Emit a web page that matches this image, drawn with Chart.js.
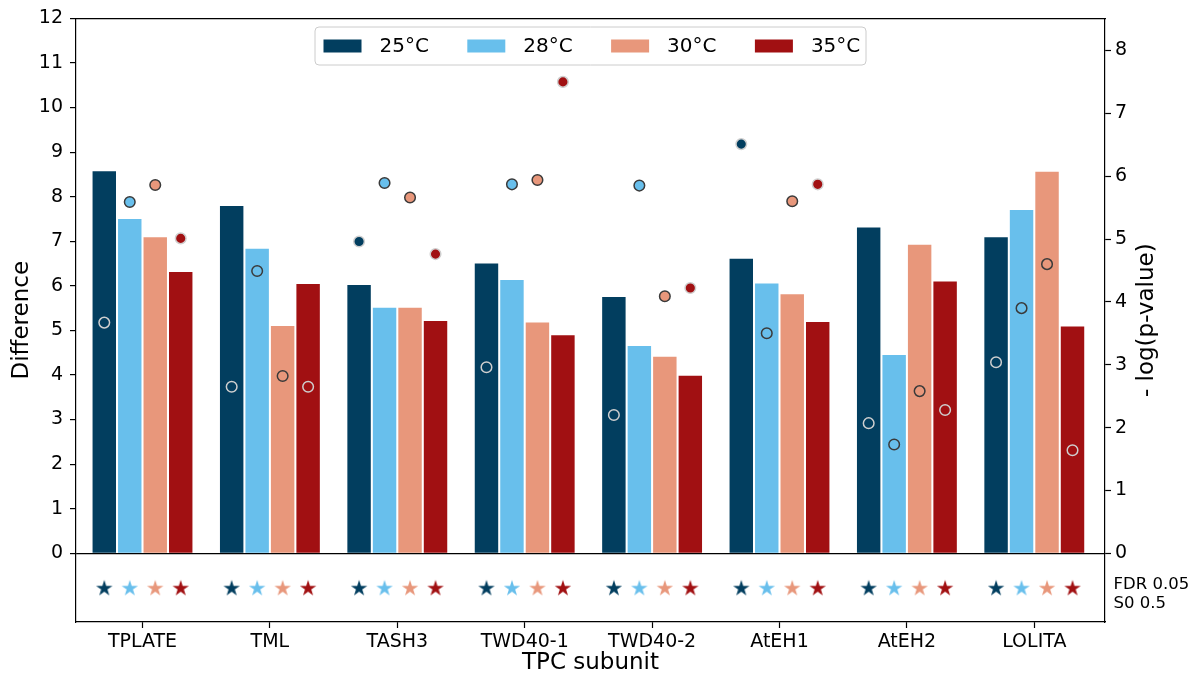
<!DOCTYPE html>
<html>
<head>
<meta charset="utf-8">
<script src="https://cdn.jsdelivr.net/npm/chart.js@4.4.1/dist/chart.umd.min.js"></script>
<style>
html,body{margin:0;padding:0;background:#fff;}
#wrap{position:relative;width:1198px;height:681px;}
canvas{display:block;}
</style>
</head>
<body>
<div id="wrap"><canvas id="c" width="1198" height="681"></canvas></div>
<script>
// ---------------- data ----------------
const categories = ['TPLATE', 'TML', 'TASH3', 'TWD40-1', 'TWD40-2', 'AtEH1', 'AtEH2', 'LOLITA'];
const seriesLabels = ['25°C', '28°C', '30°C', '35°C'];

// Difference (bars, left axis)
const diff25 = [8.57, 7.79, 6.02, 6.50, 5.75, 6.61, 7.31, 7.09];
const diff28 = [7.50, 6.83, 5.51, 6.13, 4.65, 6.05, 4.45, 7.70];
const diff30 = [7.09, 5.10, 5.51, 5.18, 4.41, 5.81, 6.92, 8.56];
const diff35 = [6.31, 6.04, 5.21, 4.89, 3.98, 5.19, 6.10, 5.09];

// -log(p-value) (points, right axis)
const logp25 = [3.67, 2.65, 4.96, 2.96, 2.20, 6.51, 2.07, 3.04];
const logp28 = [5.59, 4.49, 5.89, 5.87, 5.85, 3.50, 1.73, 3.90];
const logp30 = [5.86, 2.82, 5.66, 5.94, 4.09, 5.60, 2.58, 4.60];
const logp35 = [5.01, 2.65, 4.76, 7.50, 4.22, 5.87, 2.28, 1.64];

// significance (FDR 0.05, S0 0.5) -> star
const sig25 = [true, true, true, true, true, true, true, true];
const sig28 = [true, true, true, true, true, true, true, true];
const sig30 = [true, true, true, true, true, true, true, true];
const sig35 = [true, true, true, true, true, true, true, true];

const leftRange = [0, 12];
const rightRange = [0, 8.51];
const noteLines = ['FDR 0.05', 'S0 0.5'];
const xTitle = 'TPC subunit';
const yTitle = 'Difference';
const y2Title = '- log(p-value)';

// ---------------- styles ----------------
const colors = ['#023e5f', '#68bfec', '#e8977b', '#a11012'];
const edgeColors = ['#cfcfcf', '#3a3a3a', '#3a3a3a', '#cfcfcf'];
const diffSeries = [diff25, diff28, diff30, diff35];
const logpSeries = [logp25, logp28, logp30, logp35];
const sigSeries = [sig25, sig28, sig30, sig35];
const groupWidth = 0.8;
const slotOffset = k => (k - (seriesLabels.length - 1) / 2) * groupWidth / seriesLabels.length;

Chart.defaults.font.family = "'DejaVu Sans', sans-serif";
Chart.defaults.color = '#000';

function starCanvas(color) {
  const s = 20, c = document.createElement('canvas');
  c.width = s; c.height = s;
  const g = c.getContext('2d');
  const R = 8.6, r = R * 0.382, cx = s / 2, cy = s / 2 + 0.8;
  g.beginPath();
  for (let i = 0; i < 10; i++) {
    const rad = i % 2 === 0 ? R : r;
    const a = -Math.PI / 2 + i * Math.PI / 5;
    const px = cx + rad * Math.cos(a), py = cy + rad * Math.sin(a);
    if (i === 0) g.moveTo(px, py); else g.lineTo(px, py);
  }
  g.closePath();
  g.fillStyle = color;
  g.fill();
  return c;
}

const datasets = [];
seriesLabels.forEach((lab, k) => {
  datasets.push({
    type: 'bar', label: lab,
    data: diffSeries[k].map((v, i) => ({x: i, y: v})),
    backgroundColor: colors[k], borderWidth: 0,
    xAxisID: 'x', yAxisID: 'y', order: 3,
    categoryPercentage: groupWidth, barPercentage: 0.92
  });
});
seriesLabels.forEach((lab, k) => {
  datasets.push({
    type: 'scatter', label: lab + ' -log(p)',
    data: logpSeries[k].map((v, i) => ({x: i + slotOffset(k), y: v})),
    pointBackgroundColor: colors[k], pointBorderColor: edgeColors[k],
    pointBorderWidth: 1.5, pointRadius: 5.3, pointHoverRadius: 5.3,
    xAxisID: 'x', yAxisID: 'y2', order: 1
  });
});
seriesLabels.forEach((lab, k) => {
  datasets.push({
    type: 'scatter', label: lab + ' significant',
    data: sigSeries[k].map((s, i) => s ? ({x: i + slotOffset(k), y: 0}) : null).filter(p => p),
    pointStyle: starCanvas(colors[k]), pointRadius: 8, pointHoverRadius: 8,
    xAxisID: 'x', yAxisID: 'yStar', order: 1
  });
});

const axisColor = '#000';
const axisW = 1.2;

const decorPlugin = {
  id: 'decor',
  afterDraw(chart) {
    const ctx = chart.ctx;
    const area = chart.chartArea;
    // legend
    const bars = chart.data.datasets.filter(d => d.type === 'bar');
    const step = 143.8, patchW = 38, patchH = 13, textGap = 18;
    const frameW = 551, frameH = 38;
    const fx = (area.left + area.right) / 2 - frameW / 2;
    const fy = 27;
    ctx.save();
    ctx.beginPath();
    ctx.roundRect(fx, fy, frameW, frameH, 4);
    ctx.fillStyle = 'rgba(255,255,255,0.8)';
    ctx.fill();
    ctx.lineWidth = 1;
    ctx.strokeStyle = '#cccccc';
    ctx.stroke();
    const cy = fy + frameH / 2;
    ctx.font = "20px 'DejaVu Sans'";
    ctx.textBaseline = 'middle';
    ctx.textAlign = 'left';
    bars.forEach((d, k) => {
      const px = fx + 8.5 + k * step;
      ctx.fillStyle = d.backgroundColor;
      ctx.fillRect(px, cy - patchH / 2, patchW, patchH);
      ctx.fillStyle = '#000';
      ctx.fillText(d.label, px + patchW + textGap, cy + 1);
    });
    // right axis title
    ctx.save();
    ctx.translate(1147, (area.top + area.bottom) / 2);
    ctx.rotate(-Math.PI / 2);
    ctx.textAlign = 'center';
    ctx.font = "23px 'DejaVu Sans'";
    ctx.fillStyle = '#000';
    ctx.fillText(y2Title, 0, 0);
    ctx.restore();
    // note
    const ys = chart.scales.yStar;
    const mid = (ys.top + ys.bottom) / 2;
    ctx.font = "16.5px 'DejaVu Sans'";
    ctx.fillStyle = '#000';
    ctx.textAlign = 'left';
    noteLines.forEach((t, i) => {
      ctx.fillText(t, area.right + 8.5, mid - 3 + i * 19.3);
    });
    ctx.restore();
  }
};

new Chart(document.getElementById('c'), {
  type: 'bar',
  data: {datasets},
  options: {
    responsive: false,
    animation: false,
    layout: {padding: {top: 16, right: 53, bottom: 0, left: 0}},
    plugins: {legend: {display: false}, tooltip: {enabled: false}},
    scales: {
      x: {
        type: 'linear', position: 'bottom', min: -0.522, max: 7.555, offset: false,
        afterBuildTicks: ax => { ax.ticks = categories.map((_, i) => ({value: i})); },
        ticks: {callback: v => categories[v], font: {size: 19}, color: '#000', padding: 3, maxRotation: 0, autoSkip: false},
        grid: {display: true, offset: false, drawOnChartArea: false, tickLength: 6, tickColor: axisColor, tickWidth: axisW},
        border: {display: true, color: axisColor, width: axisW},
        title: {display: true, text: xTitle, font: {size: 23}, color: '#000', padding: {top: 0, bottom: 4}},
        afterFit: s => { s.height = 59; }
      },
      xTop: {
        type: 'linear', position: 'top', min: -0.522, max: 7.555, offset: false, display: true,
        ticks: {display: false}, grid: {display: false, offset: false},
        border: {display: true, color: axisColor, width: axisW},
        afterFit: s => { s.height = 0; }
      },
      yTitle: {
        type: 'linear', position: 'left', weight: 3, display: true,
        ticks: {display: false}, grid: {display: false, drawTicks: false},
        border: {display: false},
        title: {display: true, text: yTitle, font: {size: 23}, color: '#000', padding: {top: 8, bottom: 0}},
        afterFit: s => { s.width = 40; }
      },
      y: {
        type: 'linear', position: 'left', stack: 'L', stackWeight: 537, weight: 2,
        min: leftRange[0], max: leftRange[1],
        ticks: {stepSize: 1, autoSkip: false, font: {size: 19}, color: '#000', padding: 7},
        grid: {
          color: c => (c.tick && c.tick.value === 0) ? axisColor : 'rgba(0,0,0,0)',
          lineWidth: axisW, tickColor: axisColor, tickLength: 6, tickWidth: axisW, z: 1
        },
        border: {display: true, color: axisColor, width: axisW, z: 1},
        afterFit: s => { s.width = 36; }
      },
      yStar: {
        type: 'linear', position: 'left', stack: 'L', stackWeight: 69, weight: 1,
        min: -1, max: 1, display: true,
        ticks: {display: false}, grid: {display: false},
        border: {display: true, color: axisColor, width: axisW},
        afterFit: s => { s.width = 36; }
      },
      y2: {
        type: 'linear', position: 'right', stack: 'R', stackWeight: 537, weight: 0,
        min: rightRange[0], max: rightRange[1],
        ticks: {stepSize: 1, includeBounds: false, autoSkip: false, font: {size: 19}, color: '#000', padding: 4},
        grid: {drawOnChartArea: false, tickColor: axisColor, tickLength: 6, tickWidth: axisW},
        border: {display: true, color: axisColor, width: axisW},
        afterFit: s => { s.width = 40; }
      },
      y2s: {
        type: 'linear', position: 'right', stack: 'R', stackWeight: 69, weight: 1,
        min: -1, max: 1, display: true,
        ticks: {display: false}, grid: {display: false},
        border: {display: true, color: axisColor, width: axisW},
        afterFit: s => { s.width = 40; }
      }
    }
  },
  plugins: [decorPlugin]
});
</script>
</body>
</html>
